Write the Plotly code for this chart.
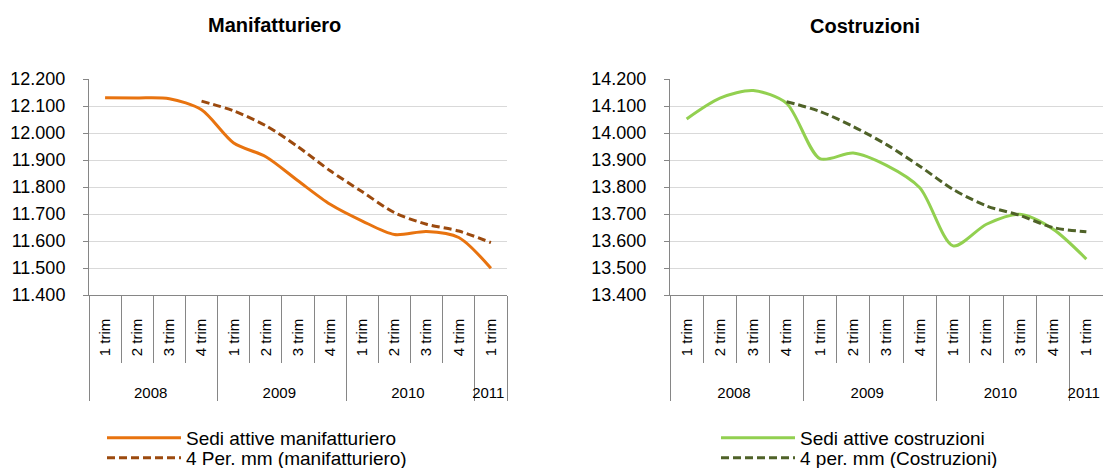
import plotly.graph_objects as go

# ---- data ----
years = ["2008"] * 4 + ["2009"] * 4 + ["2010"] * 4 + ["2011"]
quarters = ["1 trim", "2 trim", "3 trim", "4 trim"] * 3 + ["1 trim"]

manif = [12131, 12130, 12127, 12086, 11963, 11912, 11823, 11736, 11674, 11624, 11635, 11613, 11499]
manif_mm = [None, None, None, 12118, 12082, 12027, 11949, 11860, 11782, 11705, 11662, 11637, 11594]

costr = [14052, 14129, 14157, 14110, 13905, 13926, 13880, 13797, 13582, 13662, 13699, 13644, 13533]
costr_mm = [None, None, None, 14116, 14080, 14024, 13957, 13877, 13791, 13730, 13695, 13650, 13634]

names_left = ["Sedi attive manifatturiero", "4 Per. mm (manifatturiero)"]
names_right = ["Sedi attive costruzioni", "4 per. mm (Costruzioni)"]
titles = ["Manifatturiero", "Costruzioni"]

FONT = "Liberation Sans, Arial, sans-serif"
AX = "#868686"
GRID = "#d9d9d9"
W, H = 1119, 468

# rotated quarter labels: non-breaking spaces keep the text off the axis line
NB = "\u00a0"
q_labels = [NB * 3 + q + NB * 4 for q in quarters]
x = [years, q_labels]
n = len(quarters)

fig = go.Figure()
fig.add_trace(go.Scatter(x=x, y=manif, name=names_left[0], mode="lines",
                         line=dict(color="#E8730F", width=3, shape="spline", smoothing=0.8),
                         xaxis="x", yaxis="y", legend="legend"))
fig.add_trace(go.Scatter(x=x, y=manif_mm, name=names_left[1], mode="lines",
                         line=dict(color="#9C4A0E", width=3, dash="8px,4px", shape="spline", smoothing=0.8),
                         xaxis="x", yaxis="y", legend="legend2"))
fig.add_trace(go.Scatter(x=x, y=costr, name=names_right[0], mode="lines",
                         line=dict(color="#92D050", width=3, shape="spline", smoothing=0.8),
                         xaxis="x2", yaxis="y2", legend="legend3"))
fig.add_trace(go.Scatter(x=x, y=costr_mm, name=names_right[1], mode="lines",
                         line=dict(color="#4F6228", width=3, dash="8px,4px", shape="spline", smoothing=0.8),
                         xaxis="x2", yaxis="y2", legend="legend4"))

ydom = [1 - 295 / H, 1 - 79 / H]
xcommon = dict(type="multicategory", range=[-0.5, n - 0.5], tickangle=-90,
               showline=True, linecolor=AX, linewidth=1,
               ticks="outside", tickson="boundaries", ticklen=67, tickcolor=AX,
               showdividers=True, dividercolor=AX, dividerwidth=1,
               tickfont=dict(family=FONT, size=15, color="#000"), showgrid=False,
               automargin=False, fixedrange=True)
ycommon = dict(dtick=100, tickformat=",.0f", showline=True, linecolor=AX, linewidth=1,
               ticks="outside", ticklen=5, tickcolor=AX, showgrid=True, gridcolor=GRID,
               gridwidth=1, zeroline=False, tickfont=dict(family=FONT, size=18, color="#000"),
               ticklabelstandoff=14, automargin=False, fixedrange=True, domain=ydom)


def leg(xpx, ypx):
    return dict(x=xpx / W, y=1 - ypx / H, xanchor="left", yanchor="middle",
                font=dict(family=FONT, size=19, color="#000"), itemwidth=74,
                bgcolor="rgba(0,0,0,0)", borderwidth=0)


fig.update_layout(
    width=W, height=H, autosize=False,
    margin=dict(l=0, r=0, t=0, b=0, autoexpand=False),
    paper_bgcolor="white", plot_bgcolor="white",
    separators=",.",
    font=dict(family=FONT, color="#000"),
    xaxis=dict(domain=[89 / W, 507 / W], anchor="y", **xcommon),
    yaxis=dict(range=[11400, 12200], anchor="x", **ycommon),
    xaxis2=dict(domain=[670 / W, 1103 / W], anchor="y2", **xcommon),
    yaxis2=dict(range=[13400, 14200], anchor="x2", **ycommon),
    legend=leg(102, 438),
    legend2=leg(102, 458),
    legend3=leg(716, 438),
    legend4=leg(716, 458),
    showlegend=True,
    annotations=[
        dict(text="<b>" + titles[0] + "</b>", x=274.5 / W, y=1 - 25 / H, xref="paper", yref="paper",
             showarrow=False, font=dict(family=FONT, size=20, color="#000"), xanchor="center", yanchor="middle"),
        dict(text="<b>" + titles[1] + "</b>", x=865 / W, y=1 - 26 / H, xref="paper", yref="paper",
             showarrow=False, font=dict(family=FONT, size=20, color="#000"), xanchor="center", yanchor="middle"),
    ],
)

fig.write_html("out.html", config={"displayModeBar": False},
               post_script="document.body.style.margin='0';")
